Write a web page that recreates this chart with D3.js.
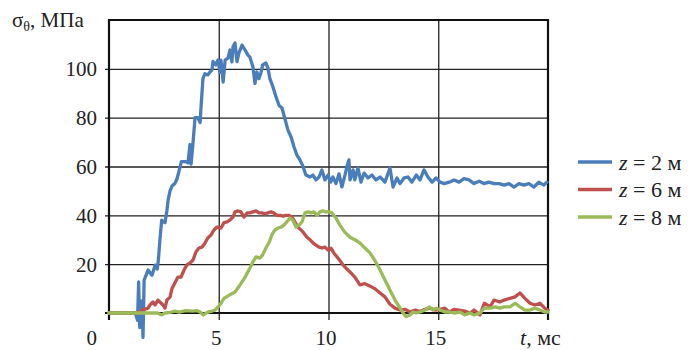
<!DOCTYPE html>
<html lang="ru">
<head>
  <meta charset="utf-8">
  <title>sigma theta</title>
  <script src="https://d3js.org/d3.v7.min.js"></script>
  <style>
    body { margin: 0; background: #fff; }
    svg text { fill: #222; }
    .grid line { stroke: #222; stroke-width: 1.3; }
    .series { fill: none; stroke-width: 3.3; stroke-linejoin: round; stroke-linecap: round; }
  </style>
</head>
<body>
<svg id="chart" width="690" height="350"></svg>
<script>
// data: [t (ms), sigma (MPa)]
const blue = [[0,0],[1.2,0],[1.3,-3],[1.35,12.7],[1.4,-6],[1.5,5],[1.55,-10],[1.6,13.5],[1.78,17.6],[1.96,15.5],
  [2.1,19.6],[2.2,18],[2.25,21.7],[2.32,30],[2.4,38],[2.55,37],[2.64,42],[2.69,46],[2.78,50],[2.87,52],[3.0,53],
  [3.1,55],[3.3,62],[3.5,62],[3.6,61.5],[3.69,69],[3.74,61],[3.83,70],[3.92,80],[4.05,80],[4.15,78],[4.19,84],
  [4.28,96],[4.37,98],[4.5,97.5],[4.6,98.7],[4.69,99.5],[4.74,103],[4.87,101.6],[4.96,103.6],[5.0,102],[5.05,98.7],
  [5.1,103.6],[5.2,94.6],[5.29,103.6],[5.42,104.4],[5.51,107.7],[5.6,102.8],[5.65,109],[5.74,110.6],[5.83,103],
  [5.92,106.5],[6.06,109.7],[6.2,107.7],[6.33,105.6],[6.42,104.8],[6.56,100.7],[6.65,94],[6.74,98.7],[6.83,96],
  [6.92,98.3],[7.0,101.6],[7.15,102.4],[7.24,100.3],[7.33,96],[7.47,92.6],[7.61,88.5],[7.75,85],[7.88,84],[8.0,80],
  [8.15,75],[8.3,72],[8.43,68],[8.56,64.7],[8.7,62.7],[8.84,60],[8.97,56.5],[9.16,55.7],[9.29,56.5],[9.43,54.5],
  [9.57,55.7],[9.7,58.6],[9.84,54.5],[9.98,56.5],[10.1,53.6],[10.2,55.7],[10.34,53],[10.48,57],[10.61,51.6],
  [10.75,56.5],[10.84,60],[10.93,62.7],[10.98,54.5],[11.12,58.6],[11.2,54.5],[11.34,59.4],[11.48,53.6],[11.62,57.3],
  [11.8,55.3],[11.98,56.5],[12.16,54.5],[12.35,55.7],[12.57,53.6],[12.8,59.4],[12.94,51.6],[13.12,55.3],[13.26,53],
  [13.44,55.3],[13.62,55.7],[13.8,53.6],[14.0,56.5],[14.17,54.5],[14.35,58.6],[14.53,55.7],[14.72,53.6],[14.9,55.3],
  [15.08,53.6],[15.27,53],[15.5,53.6],[15.72,54.5],[15.95,53.6],[16.17,55],[16.4,54.5],[16.63,53],[16.86,54],
  [17.08,53],[17.3,53.6],[17.54,53],[17.77,53],[18.0,52.4],[18.22,53],[18.45,51.6],[18.68,53],[18.9,52.4],
  [19.13,53],[19.36,51.6],[19.58,53.6],[19.81,52.4],[19.95,53.6]];

const red = [[0,0],[1.4,0],[1.5,1.2],[1.78,2],[1.87,3.3],[2.0,4.5],[2.1,3.3],[2.23,5.3],[2.32,4.5],[2.46,3.3],
  [2.55,2],[2.64,5.3],[2.78,6.5],[2.87,10],[3.0,12.3],[3.14,14.7],[3.28,14.7],[3.42,17.6],[3.55,19.7],[3.69,20.5],
  [3.83,21.7],[3.96,25],[4.1,26.6],[4.24,27],[4.37,28.6],[4.5,30.7],[4.65,32],[4.78,34],[4.92,35.2],[5.1,34.8],
  [5.24,37],[5.38,37.3],[5.5,38],[5.65,39.3],[5.74,41.4],[5.88,41.8],[6.01,41.4],[6.15,39.3],[6.29,41],[6.42,41],
  [6.56,41.4],[6.7,41.8],[6.83,41],[6.97,41],[7.11,40.6],[7.24,41],[7.38,41.4],[7.5,41],[7.65,40],[7.8,40],
  [7.93,39.7],[8.06,40],[8.2,40],[8.34,39.3],[8.47,37.3],[8.6,35.2],[8.75,34],[8.88,32.7],[9.02,31],[9.16,30],
  [9.29,28.7],[9.43,27.8],[9.57,27],[9.7,26.6],[9.84,27],[9.98,25.8],[10.12,26.5],[10.25,24.5],[10.5,21.7],
  [10.66,19.7],[10.84,18],[11.0,16.6],[11.2,14.7],[11.43,11.5],[11.66,12],[11.9,11],[12.1,10],[12.35,8.2],
  [12.57,6.6],[12.8,3.6],[13.03,2],[13.26,1.2],[13.5,1.5],[13.7,0.4],[13.95,1.2],[14.17,0.6],[14.4,1.5],[14.62,2],
  [14.85,1.2],[15.08,1.5],[15.3,2],[15.5,0.4],[15.72,1.5],[15.95,1.2],[16.2,0.8],[16.45,0],[16.63,1.2],[16.9,-0.8],
  [17.1,4],[17.36,2.5],[17.54,5.3],[17.8,4.5],[18.0,5.3],[18.27,6],[18.5,6.6],[18.72,8.2],[18.95,6],[19.18,4],
  [19.4,3.3],[19.63,4],[19.85,2],[20,1.2]];

const green = [[0,0],[2.2,0],[2.4,-0.8],[2.55,0],[2.8,0.3],[3.0,0.8],[3.2,0.4],[3.5,1],[3.8,0.8],[4.0,1],[4.15,0.4],
  [4.3,-0.8],[4.5,0.4],[4.7,0.8],[4.83,1.2],[5.05,3.3],[5.24,6],[5.5,7.4],[5.74,8.6],[5.97,11.5],[6.2,14.7],
  [6.42,18.4],[6.56,21],[6.7,23],[6.88,22.5],[7.0,23.8],[7.15,26.6],[7.3,29],[7.42,32],[7.56,34],[7.7,34.8],
  [7.84,35.2],[7.97,36],[8.1,37.3],[8.24,38.9],[8.38,38],[8.52,35.2],[8.66,36],[8.79,37.3],[8.93,41],[9.07,41.4],
  [9.2,41],[9.34,41.4],[9.48,40],[9.61,41.4],[9.75,41.8],[9.89,41.4],[10.02,41.4],[10.16,41],[10.34,38.9],
  [10.52,36],[10.75,33],[10.98,31],[11.2,30],[11.43,28.7],[11.66,26.6],[11.89,24.6],[12.1,21.7],[12.35,17.6],
  [12.57,13.5],[12.8,9.4],[13.03,5.3],[13.26,2],[13.4,0],[13.53,-1.5],[13.71,-0.8],[13.85,0.4],[13.99,0],
  [14.17,0.4],[14.4,1.2],[14.6,2.5],[14.75,1.2],[14.9,2],[15.08,1.2],[15.3,0.4],[15.5,0.4],[15.72,0],[16.0,0.4],
  [16.2,-0.8],[16.45,0],[16.63,-0.8],[16.9,0],[17.1,2],[17.36,2],[17.6,2.5],[17.8,2],[18.0,2.5],[18.27,2.5],
  [18.5,4],[18.72,2.5],[18.95,1.2],[19.18,1.2],[19.4,2],[19.63,1.2],[19.85,0.4],[20,0.4]];

const seriesNames = ["z = 2 м", "z = 6 м", "z = 8 м"];
const seriesColors = ["#4a7ebb", "#c0504d", "#9bbb59"];
const yTicks = [20, 40, 60, 80, 100];
const xTicks = [5, 10, 15];

const svg = d3.select("#chart");
const pL = 109, pR = 548, pT = 20, pB = 313;
const serif = "Liberation Serif, Times New Roman, DejaVu Serif, serif";

const x = d3.scaleLinear().domain([0, 20]).range([pL, pR]);
const y = d3.scaleLinear().domain([0, 120]).range([pB, pT]);

// horizontal grid + y labels
const yAxis = svg.append("g")
  .attr("class", "grid")
  .attr("transform", "translate(" + pL + ",0)")
  .call(d3.axisLeft(y).tickValues(yTicks).tickSize(-(pR - pL)).tickPadding(12));
yAxis.attr("font-family", serif);
yAxis.select(".domain").remove();
yAxis.selectAll(".tick line").attr("x1", pR - pL).attr("x2", -4);
yAxis.selectAll(".tick text").attr("font-size", 21).attr("dy", "0.34em");

// vertical grid + x labels
const xAxis = svg.append("g")
  .attr("class", "grid")
  .attr("transform", "translate(0," + pB + ")")
  .call(d3.axisBottom(x).tickValues(xTicks).tickSize(-(pB - pT)).tickPadding(0));
xAxis.attr("font-family", serif);
xAxis.select(".domain").remove();
xAxis.selectAll(".tick line").attr("y1", -(pB - pT)).attr("y2", 7);
xAxis.selectAll(".tick text").attr("font-size", 21).attr("y", 32).attr("dy", 0).attr("dx", -3);

// frame
svg.append("line").attr("x1", pL).attr("x2", pR).attr("y1", pT).attr("y2", pT)
  .attr("stroke", "#111").attr("stroke-width", 2.2);
svg.append("line").attr("x1", pR).attr("x2", pR).attr("y1", pT - 1).attr("y2", pB + 7)
  .attr("stroke", "#111").attr("stroke-width", 2.2);
svg.append("line").attr("x1", pL).attr("x2", pL).attr("y1", pT - 1).attr("y2", pB + 7)
  .attr("stroke", "#111").attr("stroke-width", 2.2);
svg.append("line").attr("x1", pL - 4).attr("x2", pR).attr("y1", pB).attr("y2", pB)
  .attr("stroke", "#111").attr("stroke-width", 2.2);

// curves
const line = d3.line().x(d => x(d[0])).y(d => y(d[1]));
[blue, red, green].forEach((s, i) => {
  svg.append("path").datum(s).attr("class", "series")
    .attr("stroke", seriesColors[i]).attr("d", line);
});

// corner zero, axis titles
svg.append("text").attr("x", 97).attr("y", 345).attr("text-anchor", "end")
  .attr("font-family", serif).attr("font-size", 21).text("0");

const xt = svg.append("text").attr("x", 520).attr("y", 345)
  .attr("font-family", serif).attr("font-size", 22);
xt.append("tspan").attr("font-style", "italic").text("t");
xt.append("tspan").text(", мс");

const yt = svg.append("text").attr("x", 12).attr("y", 27)
  .attr("font-family", serif).attr("font-size", 21);
yt.append("tspan").text("σ");
yt.append("tspan").attr("font-size", 14).attr("dy", 4).text("θ");
yt.append("tspan").attr("dy", -4).text(", МПа");

// legend
const legend = svg.append("g");
seriesNames.forEach((name, i) => {
  const ly = 162 + i * 27.5;
  legend.append("line").attr("x1", 578).attr("x2", 612).attr("y1", ly).attr("y2", ly)
    .attr("stroke", seriesColors[i]).attr("stroke-width", 3.5);
  const t = legend.append("text").attr("x", 619).attr("y", ly).attr("dy", "0.35em")
    .attr("font-family", serif).attr("font-size", 22);
  t.append("tspan").attr("font-style", "italic").text("z");
  t.append("tspan").text(name.slice(1));
});
</script>
</body>
</html>
